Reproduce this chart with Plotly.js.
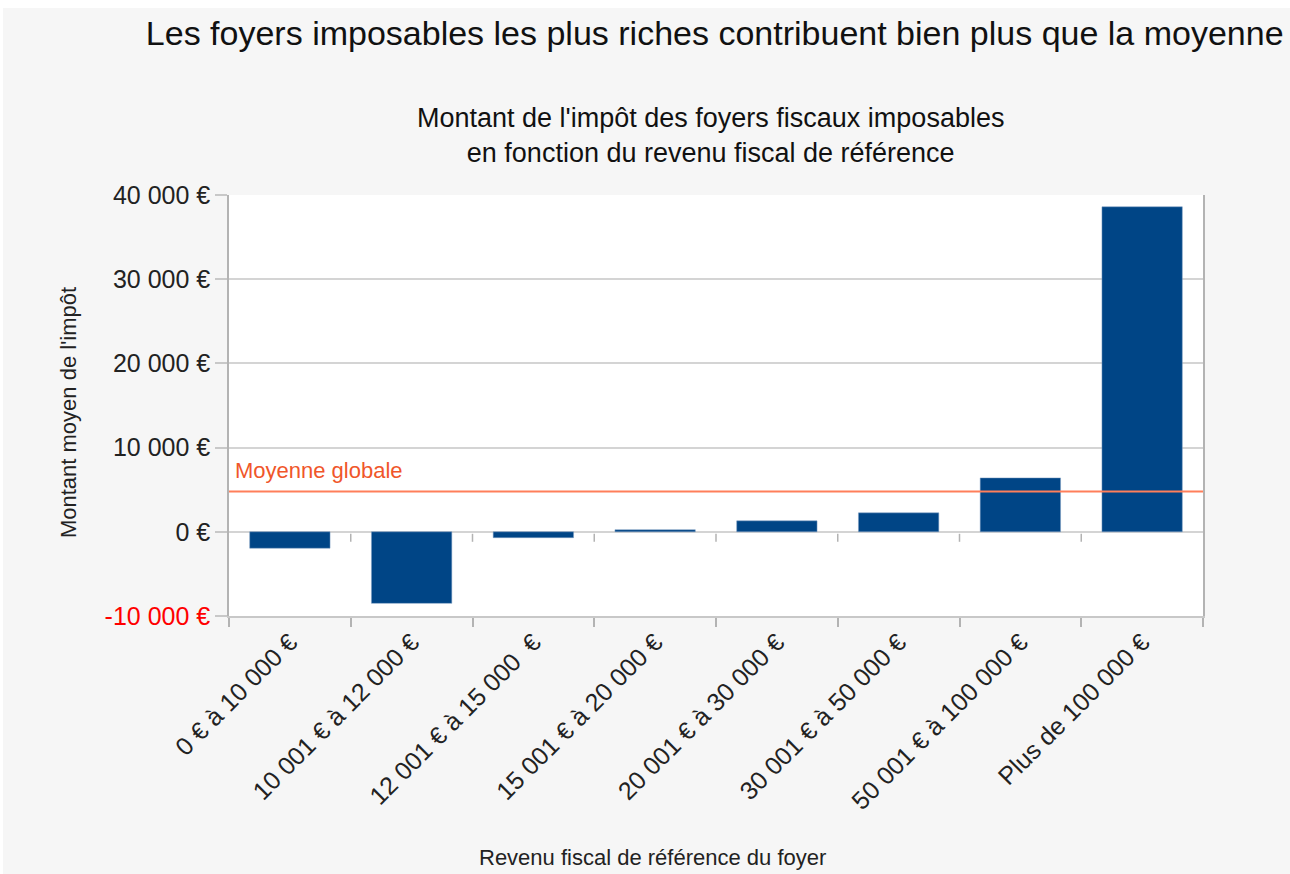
<!DOCTYPE html>
<html>
<head>
<meta charset="utf-8">
<script src="https://cdn.plot.ly/plotly-3.0.1.min.js"></script>
<style>
  body { margin: 0; background: #ffffff; }
  #chart { position: absolute; left: 3px; top: 8px; width: 1287px; height: 866px; }
</style>
</head>
<body>
<div id="chart"></div>
<script>
const tranches = [
  "0 € à 10 000 €",
  "10 001 € à 12 000 €",
  "12 001 € à 15 000  €",
  "15 001 € à 20 000 €",
  "20 001 € à 30 000 €",
  "30 001 € à 50 000 €",
  "50 001 € à 100 000 €",
  "Plus de 100 000 €"
];
const impotMoyen = [-1950, -8500, -700, 250, 1300, 2250, 6400, 38600];
const moyenneGlobale = 4800;
const yTickVals = [-10000, 0, 10000, 20000, 30000, 40000];
const yTickText = ['<span style="color:#ff0000">-10 000 €</span>', "0 €", "10 000 €", "20 000 €", "30 000 €", "40 000 €"];

function showImpotChart() {
  const container = document.getElementById("chart");

  const trace = {
    x: tranches,
    y: impotMoyen,
    type: "bar",
    marker: { color: "#004586", line: { color: "#7f9fc2", width: 0.5 } },
    hoverinfo: "x+y"
  };

  // small ticks on the zero line, between categories
  const zeroTicks = tranches.slice(0, -1).map((t, i) => ({
    type: "line",
    xref: "x", yref: "y",
    x0: i + 0.5, x1: i + 0.5,
    ysizemode: "pixel", yanchor: 0,
    y0: -2, y1: -10,
    line: { color: "#b3b3b3", width: 1.5 }
  }));

  const layout = {
    font: { family: "Liberation Sans, Arial, sans-serif", color: "#222222" },
    paper_bgcolor: "#f6f6f6",
    plot_bgcolor: "#ffffff",
    width: 1287,
    height: 866,
    margin: { t: 187, l: 226, r: 87, b: 258 },
    showlegend: false,
    title: {
      text: "Les foyers imposables les plus riches contribuent bien plus que la moyenne",
      font: { size: 34, color: "#111111" },
      x: 0.553, xanchor: "center",
      y: 0.985, yanchor: "top"
    },
    bargap: 0.34,
    xaxis: {
      type: "category",
      tickangle: -45,
      tickfont: { size: 25, color: "#222222" },
      ticks: "outside",
      tickson: "boundaries",
      ticklen: 9,
      tickcolor: "#b3b3b3",
      tickwidth: 1.5,
      showline: true,
      linecolor: "#c8c8c8",
      linewidth: 1.5,
      showgrid: false
    },
    yaxis: {
      range: [-10000, 40000],
      tickvals: yTickVals,
      ticktext: yTickText,
      tickfont: { size: 25, color: "#222222" },
      ticks: "outside",
      ticklen: 12,
      tickcolor: "#c8c8c8",
      tickwidth: 1.5,
      showgrid: true,
      gridcolor: "#d4d4d4",
      gridwidth: 1.5,
      zeroline: false,
      showline: true,
      linecolor: "#b3b3b3",
      linewidth: 1.5,
      mirror: true
    },
    shapes: [
      {
        type: "line",
        xref: "paper", yref: "y",
        x0: 0, x1: 1,
        y0: moyenneGlobale, y1: moyenneGlobale,
        line: { color: "#ff7f5a", width: 2 },
        layer: "above"
      }
    ].concat(zeroTicks),
    annotations: [
      {
        text: "Montant de l'impôt des foyers fiscaux imposables<br>en fonction du revenu fiscal de référence",
        xref: "paper", yref: "paper",
        x: 0.494, y: 1,
        yshift: 25,
        xanchor: "center", yanchor: "bottom",
        showarrow: false,
        font: { size: 27, color: "#111111" }
      },
      {
        text: "Moyenne globale",
        xref: "paper", yref: "y",
        x: 0, y: moyenneGlobale,
        xshift: 4, yshift: 6,
        xanchor: "left", yanchor: "bottom",
        showarrow: false,
        font: { size: 22, color: "#f0562a" }
      },
      // axis titles sit off-centre in the original, so place them by hand
      {
        text: "Revenu fiscal de référence du foyer",
        xref: "paper", yref: "paper",
        x: 0.435, y: 0,
        yshift: -241,
        xanchor: "center", yanchor: "middle",
        showarrow: false,
        font: { size: 22, color: "#222222" }
      },
      {
        text: "Montant moyen de l'impôt",
        textangle: -90,
        xref: "paper", yref: "paper",
        x: 0, y: 0.482,
        xshift: -161,
        xanchor: "center", yanchor: "middle",
        showarrow: false,
        font: { size: 22, color: "#222222" }
      }
    ]
  };

  const config = { displayModeBar: false };
  Plotly.newPlot(container, [trace], layout, config);
}

showImpotChart();
</script>
</body>
</html>
